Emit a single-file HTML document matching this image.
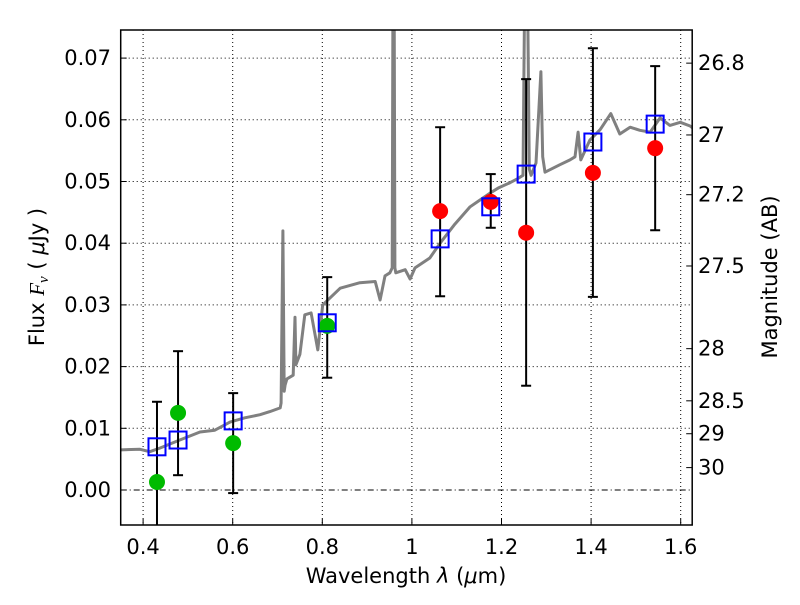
<!DOCTYPE html>
<html><head><meta charset="utf-8"><style>
body{margin:0;background:#fff;}
svg text{font-family:"DejaVu Sans","Liberation Sans",sans-serif;fill:#000;}
</style></head><body>
<svg id="chart" width="800" height="600" xmlns="http://www.w3.org/2000/svg">
<rect width="800" height="600" fill="#fff"/>
<defs><clipPath id="clip"><rect x="120.7" y="30" width="571.5" height="495"/></clipPath></defs>
<g id="grid"></g>
<g id="plot" clip-path="url(#clip)"></g>
<rect x="120.7" y="30" width="571.5" height="495" fill="none" stroke="#000" stroke-width="1.5"/>
<g id="axes"></g>
<text x="406" y="583" font-size="21" text-anchor="middle">Wavelength  <tspan font-style="italic">λ</tspan> (<tspan font-style="italic">μ</tspan>m)</text>
<text transform="translate(44,277) rotate(-90)" font-size="21" text-anchor="middle">Flux  <tspan font-style="italic" font-family="Liberation Serif">F<tspan font-size="15" dy="4">ν</tspan></tspan><tspan dy="-4">  ( </tspan><tspan font-style="italic">μ</tspan>Jy )</text>
<text transform="translate(777,277) rotate(-90)" font-size="21" text-anchor="middle">Magnitude (AB)</text>
</svg>
<script>
const specWave=[0.348,0.393,0.415,0.438,0.482,0.527,0.560,0.594,0.627,0.661,0.683,0.706,0.708,0.712,0.715,0.717,0.721,0.735,0.739,0.741,0.750,0.761,0.775,0.790,0.801,0.840,0.884,0.918,0.929,0.940,0.951,0.956,0.958,0.960,0.962,0.964,0.985,0.996,1.007,1.040,1.063,1.096,1.130,1.152,1.174,1.194,1.219,1.237,1.248,1.253,1.257,1.262,1.266,1.277,1.288,1.292,1.297,1.330,1.353,1.364,1.371,1.377,1.397,1.420,1.444,1.464,1.487,1.509,1.532,1.554,1.576,1.599,1.621,1.63];
const specFlux=[0.0065,0.0066,0.0062,0.0068,0.0081,0.0094,0.0097,0.0110,0.0117,0.0122,0.0127,0.0133,0.0141,0.0420,0.0160,0.0170,0.0180,0.0186,0.0280,0.0203,0.0220,0.0284,0.0287,0.0227,0.0300,0.0327,0.0336,0.0338,0.0308,0.0347,0.0352,0.0360,0.0900,0.0900,0.0360,0.0352,0.0357,0.0342,0.0360,0.0376,0.0400,0.0431,0.0459,0.0470,0.0481,0.0490,0.0498,0.0505,0.0510,0.0900,0.0900,0.0520,0.0510,0.0530,0.0678,0.0540,0.0515,0.0527,0.0535,0.0540,0.0580,0.0535,0.0567,0.0584,0.0610,0.0577,0.0588,0.0583,0.0580,0.0603,0.0591,0.0596,0.0590,0.0585];
const greenWave=[0.431,0.478,0.601,0.811];
const greenFlux=[0.0013,0.0125,0.0076,0.0266];
const redWave=[1.063,1.176,1.255,1.404,1.543];
const redFlux=[0.0452,0.0467,0.0417,0.0514,0.0554];
const sqWave=[0.431,0.478,0.601,0.811,1.063,1.176,1.255,1.404,1.543];
const sqFlux=[0.0070,0.0081,0.0112,0.0271,0.0407,0.0459,0.0512,0.0564,0.0593];
const errLow=[-0.0075,0.0024,-0.0005,0.0182,0.0314,0.0425,0.0169,0.0313,0.0421];
const errHigh=[0.0143,0.0225,0.0157,0.0345,0.0588,0.0512,0.0666,0.0716,0.0687];
const xTicks=[0.4,0.6,0.8,1.0,1.2,1.4,1.6];
const xTickLabels=["0.4","0.6","0.8","1","1.2","1.4","1.6"];
const yTicks=[0,0.01,0.02,0.03,0.04,0.05,0.06,0.07];
const yTickLabels=["0.00","0.01","0.02","0.03","0.04","0.05","0.06","0.07"];
const magTicks=[26.8,27,27.2,27.5,28,28.5,29,30];
const magTickLabels=["26.8","27","27.2","27.5","28","28.5","29","30"];

const X=v=>120.7+(v-0.35)*448;
const Y=v=>490-v*6170;
const NS="http://www.w3.org/2000/svg";
function mk(parent,tag,attrs){const e=document.createElementNS(NS,tag);for(const k in attrs)e.setAttribute(k,attrs[k]);document.getElementById(parent).appendChild(e);return e;}
const L=120.7,R=692.2,T=30,B=525;
xTicks.forEach((t,i)=>{
  const g=mk('grid','line',{x1:X(t),x2:X(t),y1:T,y2:B,stroke:'#000','stroke-width':1,'stroke-dasharray':'1,3'});
  
  
  const tk=mk('axes','line',{x1:X(t),x2:X(t),y1:B,y2:B-6,stroke:'#000'});
  
  
  const lb=mk('axes','text',{x:X(t),y:554,'font-size':21,'text-anchor':'middle'});lb.textContent=xTickLabels[i];
  
  
});
yTicks.forEach((t,i)=>{
  const g=mk('grid','line',{x1:L,x2:R,y1:Y(t),y2:Y(t),stroke:'#000','stroke-width':1,'stroke-dasharray':t===0?'6,3,1,3':'1,3'});
  
  
  const tk=mk('axes','line',{x1:L,x2:L+6,y1:Y(t),y2:Y(t),stroke:'#000'});
  
  
  const lb=mk('axes','text',{x:111,y:Y(t)+7,'font-size':21,'text-anchor':'end'});lb.textContent=yTickLabels[i];
  
  
});
magTicks.forEach((m,i)=>{
  const f=Math.pow(10,(23.9-m)/2.5);
  const tk=mk('axes','line',{x1:R,x2:R-6,y1:Y(f),y2:Y(f),stroke:'#000'});
  
  
  const lb=mk('axes','text',{x:698,y:Y(f)+7,'font-size':21});lb.textContent=magTickLabels[i];
  
  
});
const pts=specWave.map((w,i)=>X(w).toFixed(1)+','+Y(specFlux[i]).toFixed(1)).join(' ');
const sp=mk('plot','polyline',{points:pts,fill:'none',stroke:'#808080','stroke-width':3,'stroke-linejoin':'round'});


sqWave.forEach((w,i)=>{
  const x=X(w);
  const e=mk('plot','line',{x1:x,x2:x,y1:Y(errLow[i]),y2:Y(errHigh[i]),stroke:'#000','stroke-width':2});
  
  
  [errLow[i],errHigh[i]].forEach(v=>{const c=mk('plot','line',{x1:x-5,x2:x+5,y1:Y(v),y2:Y(v),stroke:'#000','stroke-width':2});
    
    });
});
greenWave.forEach((w,i)=>{const c=mk('plot','circle',{cx:X(w),cy:Y(greenFlux[i]),r:8,fill:'#00bb00'});
  
  });
redWave.forEach((w,i)=>{const c=mk('plot','circle',{cx:X(w),cy:Y(redFlux[i]),r:8,fill:'#ff0000'});
  
  });
sqWave.forEach((w,i)=>{const s=mk('plot','rect',{x:X(w)-8.5,y:Y(sqFlux[i])-8.5,width:17,height:17,fill:'none',stroke:'#0000ff','stroke-width':2});
  
  });
</script>
</body></html>
